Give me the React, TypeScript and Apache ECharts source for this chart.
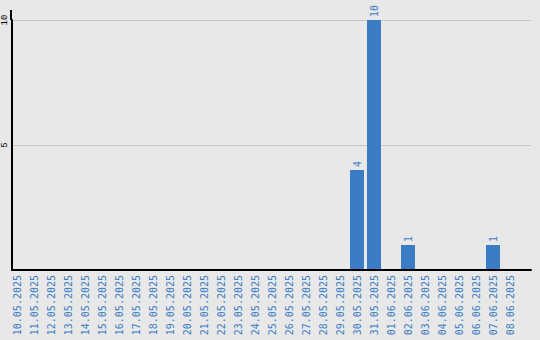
import React, { useEffect, useRef } from "react";
import * as echarts from "echarts";

const dates: string[] = [
  "10.05.2025", "11.05.2025", "12.05.2025", "13.05.2025", "14.05.2025",
  "15.05.2025", "16.05.2025", "17.05.2025", "18.05.2025", "19.05.2025",
  "20.05.2025", "21.05.2025", "22.05.2025", "23.05.2025", "24.05.2025",
  "25.05.2025", "26.05.2025", "27.05.2025", "28.05.2025", "29.05.2025",
  "30.05.2025", "31.05.2025", "01.06.2025", "02.06.2025", "03.06.2025",
  "04.06.2025", "05.06.2025", "06.06.2025", "07.06.2025", "08.06.2025",
];

const counts: number[] = [
  0, 0, 0, 0, 0, 0, 0, 0, 0, 0,
  0, 0, 0, 0, 0, 0, 0, 0, 0, 0,
  4, 10, 0, 1, 0, 0, 0, 0, 1, 0,
];

const BLUE = "#3a7dc4";
const MONO = "DejaVu Sans Mono, monospace";

export default function App() {
  const ref = useRef<HTMLDivElement>(null);

  useEffect(() => {
    if (!ref.current) return;
    const chart = echarts.init(ref.current, undefined, { renderer: "svg" });
    chart.setOption({
      animation: false,
      backgroundColor: "#e8e8e8",
      grid: [
        { left: 11, right: 9, top: 20, bottom: 70 },
        { left: 8.5, right: 21.5, top: 20, bottom: 70 },
      ],
      graphic: [
        {
          // the vertical axis runs a little past the top gridline
          type: "line",
          shape: { x1: 11, y1: 10, x2: 11, y2: 20 },
          style: { stroke: "#000", lineWidth: 2 },
        },
      ],
      xAxis: [
        {
          gridIndex: 0,
          type: "value",
          min: 0,
          max: 1,
          z: 4,
          axisLine: { show: true, onZero: false, lineStyle: { color: "#000", width: 2 } },
          axisTick: { show: false },
          axisLabel: { show: false },
          splitLine: { show: false },
        },
        {
          gridIndex: 1,
          type: "category",
          data: dates,
          axisLine: { show: false },
          axisTick: { show: false },
          axisLabel: {
            rotate: 90,
            interval: 0,
            margin: 5,
            color: BLUE,
            fontFamily: MONO,
            fontSize: 10,
          },
        },
      ],
      yAxis: [
        {
          gridIndex: 0,
          type: "value",
          min: 0,
          max: 10,
          interval: 5,
          z: 0,
          axisLine: { show: true, lineStyle: { color: "#000", width: 2 } },
          axisTick: { show: false },
          splitLine: { show: true, lineStyle: { color: "#c8c8c8", width: 1 } },
          axisLabel: {
            rotate: 90,
            margin: 3,
            color: "#000",
            fontFamily: "Liberation Mono, monospace",
            fontSize: 9,
            formatter: (v: number) => (v === 0 ? "" : String(v)),
          },
        },
        {
          gridIndex: 1,
          type: "value",
          min: 0,
          max: 10,
          show: false,
        },
      ],
      series: [
        {
          type: "bar",
          xAxisIndex: 1,
          yAxisIndex: 1,
          z: 3,
          data: counts,
          barWidth: 14,
          itemStyle: { color: BLUE },
          label: {
            show: true,
            position: "top",
            rotate: 90,
            align: "left",
            verticalAlign: "middle",
            distance: 3,
            color: BLUE,
            fontFamily: MONO,
            fontSize: 10,
            formatter: (p: any) => (p.value > 0 ? String(p.value) : ""),
          },
        },
      ],
    });
    return () => chart.dispose();
  }, []);

  return (
    <div
      ref={ref}
      style={{ position: "absolute", left: 0, top: 0, width: 540, height: 340 }}
    />
  );
}
